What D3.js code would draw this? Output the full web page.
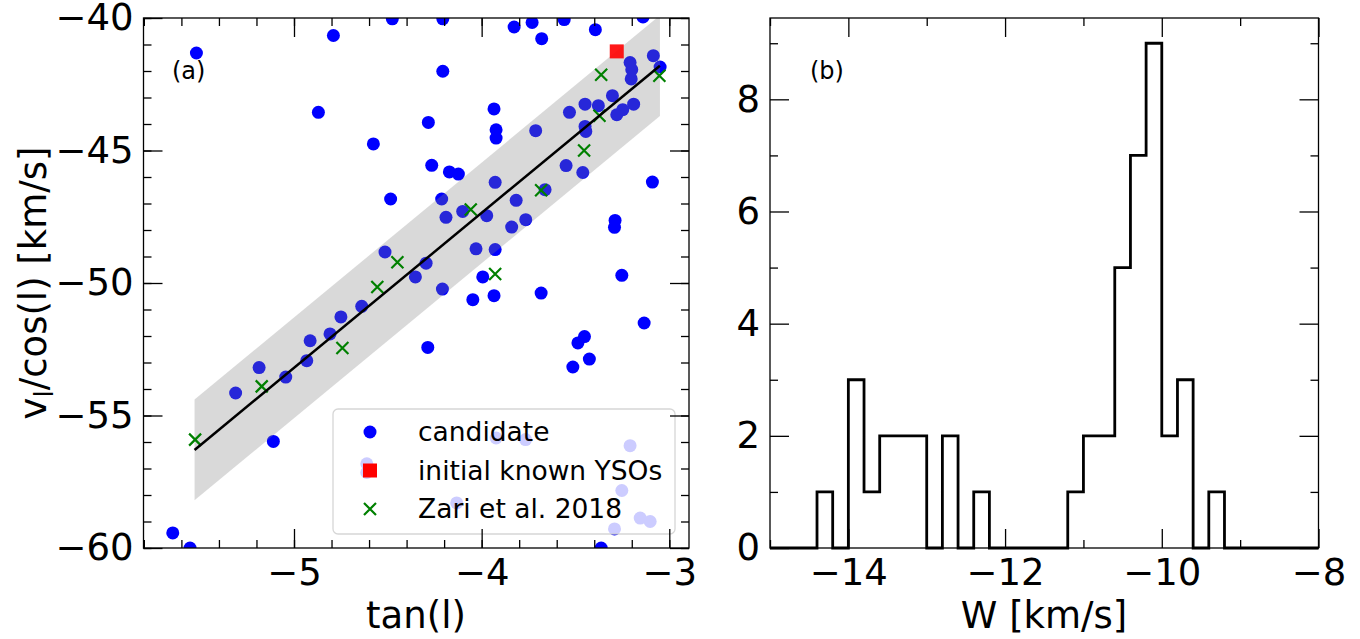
<!DOCTYPE html>
<html>
<head>
<meta charset="utf-8">
<script src="https://cdnjs.cloudflare.com/ajax/libs/d3/7.8.5/d3.min.js"></script>
<style>
  body { margin: 0; background: #fff; }
  svg { font-family: "DejaVu Sans", sans-serif; }
</style>
</head>
<body>
<svg width="1360" height="639"></svg>
<script>
// panel (a): candidates
var candTan = [-5.52, -4.79, -4.476, -4.87, -4.577, -4.485, -4.207, -3.827, -3.731, -3.68,
  -3.56, -3.394, -3.14, -4.207, -3.085, -3.049, -3.209, -3.20, -3.203, -3.303,
  -3.449, -3.378, -3.532, -3.19, -3.248, -3.28, -3.934, -4.284, -3.923, -3.923,
  -3.712, -3.449, -3.445, -4.266, -4.172, -4.124, -3.928, -3.55, -3.461, -3.09,
  -3.662, -4.213, -3.816, -4.515, -4.353, -4.639, -4.75, -4.808, -4.914, -4.932,
  -5.186, -5.044, -4.101, -4.19, -3.973, -3.84, -3.765, -4.03, -3.928, -3.289,
  -3.292, -4.296, -3.994, -4.209, -4.047, -3.934, -3.683, -3.253, -4.287, -3.134,
  -3.452, -3.487, -3.426, -3.514, -5.311, -5.11, -5.646, -5.554, -3.923, -3.766,
  -3.209, -4.612, -4.612, -3.253, -4.133, -3.155, -3.102, -3.292, -3.363];
var candV = [-41.32, -40.66, -40.03, -43.56, -44.75, -46.83, -40.03, -40.34, -40.17, -40.78,
  -40.06, -40.44, -39.96, -42.01, -41.42, -41.85, -41.68, -41.95, -42.30, -42.93,
  -43.25, -43.31, -43.56, -43.25, -43.46, -43.65, -43.43, -43.94, -44.22, -44.53,
  -44.25, -44.09, -44.28, -45.56, -45.81, -45.89, -46.2, -45.57, -45.83, -46.19,
  -46.48, -46.83, -46.88, -48.83, -49.77, -50.88, -51.28, -51.92, -52.18, -52.93,
  -53.19, -53.55, -47.3, -47.52, -47.46, -47.89, -47.61, -48.71, -48.74, -47.64,
  -47.9, -49.25, -49.77, -50.23, -50.63, -50.48, -50.38, -49.71, -52.43, -51.51,
  -52.02, -52.26, -52.87, -53.17, -54.15, -55.98, -59.43, -60.0, -55.85, -55.91,
  -56.14, -56.82, -57.15, -57.83, -58.3, -58.87, -59.0, -59.28, -60.0];

// initial known YSOs
var ysoTan = [-3.28];
var ysoV = [-41.26];

// Zari et al. 2018
var zariTan = [-5.527, -5.172, -4.742, -4.556, -4.449, -4.058, -3.928, -3.683, -3.454, -3.372, -3.363, -3.053];
var zariV = [-55.91, -53.9, -52.45, -50.15, -49.22, -47.23, -49.66, -46.5, -45.0, -43.69, -42.14, -42.18];

// linear fit and band
var fitTan = [-5.53, -3.05];
var fitV = [-56.3, -41.8];
var bandUpper = [-54.4, -39.9];
var bandLower = [-58.2, -43.7];

var legendLabels = ["candidate", "initial known YSOs", "Zari et al. 2018"];

// panel (b): histogram of W
var histEdges = [-15.0, -14.8, -14.6, -14.4, -14.2, -14.0, -13.8, -13.6, -13.4, -13.2,
  -13.0, -12.8, -12.6, -12.4, -12.2, -12.0, -11.8, -11.6, -11.4, -11.2,
  -11.0, -10.8, -10.6, -10.4, -10.2, -10.0, -9.8, -9.6, -9.4, -9.2,
  -9.0, -8.8, -8.6, -8.4, -8.2, -8.0];
var histCounts = [0, 0, 0, 1, 0, 3, 1, 2, 2, 2,
  0, 2, 0, 1, 0, 0, 0, 0, 0, 1,
  2, 2, 5, 7, 9, 2, 3, 0, 1, 0,
  0, 0, 0, 0, 0];

var tickA_x = [-5, -4, -3];
var tickA_y = [-60, -55, -50, -45, -40];
var tickB_x = [-14, -12, -10, -8];
var tickB_y = [0, 2, 4, 6, 8];

var svg = d3.select("svg");
var fs = 37;

var yTop = 18, yBot = 548;
var x1 = d3.scaleLinear().domain([-5.802, -2.895]).range([143.5, 689]);
var y1 = d3.scaleLinear().domain([-60, -40]).range([yBot, yTop]);
var x2 = d3.scaleLinear().domain([-15, -8]).range([770, 1318.5]);
var y2 = d3.scaleLinear().domain([0, 9.45]).range([yBot, yTop]);

function frameAxes(x, y, xt, yt, xminor, yminor, fmtX) {
  var g = svg.append("g");
  var x0 = x.range()[0], xr = x.range()[1];
  function add(axis, tr) {
    var a = g.append("g").attr("transform", tr).call(axis);
    a.select(".domain").remove();
    a.selectAll("line").attr("stroke", "#000").attr("stroke-width", 1.3);
    a.selectAll("text").attr("font-size", fs).attr("fill", "#000").attr("font-family", "DejaVu Sans");
    return a;
  }
  add(d3.axisBottom(x).tickValues(xt).tickSize(-19).tickSizeOuter(0).tickPadding(11).tickFormat(fmtX), "translate(0," + yBot + ")");
  add(d3.axisBottom(x).tickValues(xminor).tickSize(-8).tickSizeOuter(0).tickFormat(""), "translate(0," + yBot + ")");
  add(d3.axisTop(x).tickValues(xt).tickSize(-19).tickSizeOuter(0).tickFormat(""), "translate(0," + yTop + ")");
  add(d3.axisTop(x).tickValues(xminor).tickSize(-8).tickSizeOuter(0).tickFormat(""), "translate(0," + yTop + ")");
  add(d3.axisLeft(y).tickValues(yt).tickSize(-19).tickSizeOuter(0).tickPadding(10).tickFormat(d3.format("d")), "translate(" + x0 + ",0)");
  add(d3.axisLeft(y).tickValues(yminor).tickSize(-8).tickSizeOuter(0).tickFormat(""), "translate(" + x0 + ",0)");
  add(d3.axisRight(y).tickValues(yt).tickSize(-19).tickSizeOuter(0).tickFormat(""), "translate(" + xr + ",0)");
  add(d3.axisRight(y).tickValues(yminor).tickSize(-8).tickSizeOuter(0).tickFormat(""), "translate(" + xr + ",0)");
  g.append("rect")
    .attr("x", x0).attr("y", yTop)
    .attr("width", xr - x0).attr("height", yBot - yTop)
    .attr("fill", "none").attr("stroke", "#000").attr("stroke-width", 1.3);
}

// ---------- panel (a) ----------
svg.append("clipPath").attr("id", "clipA").append("rect")
  .attr("x", 143.5).attr("y", yTop).attr("width", 689 - 143.5).attr("height", yBot - yTop);

var pa = svg.append("g").attr("clip-path", "url(#clipA)");

pa.selectAll(".cand")
  .data(d3.zip(candTan, candV))
  .enter().append("circle")
  .attr("class", "cand")
  .attr("cx", function(d) { return x1(d[0]); })
  .attr("cy", function(d) { return y1(d[1]); })
  .attr("r", 6.5)
  .attr("fill", "#0000ff");

var band = fitTan.map(function(t, i) { return [x1(t), y1(bandUpper[i])]; })
  .concat(fitTan.map(function(t, i) { return [x1(t), y1(bandLower[i])]; }).reverse());
pa.append("path")
  .attr("d", "M" + band.join("L") + "Z")
  .attr("fill", "#808080")
  .attr("fill-opacity", 0.3);

pa.selectAll(".yso")
  .data(d3.zip(ysoTan, ysoV))
  .enter().append("rect")
  .attr("class", "yso")
  .attr("x", function(d) { return x1(d[0]) - 7; })
  .attr("y", function(d) { return y1(d[1]) - 7; })
  .attr("width", 14).attr("height", 14)
  .attr("fill", "#ff0000").attr("fill-opacity", 0.9);

pa.selectAll(".zari")
  .data(d3.zip(zariTan, zariV))
  .enter().append("path")
  .attr("class", "zari")
  .attr("d", "M-6,-6L6,6M-6,6L6,-6")
  .attr("transform", function(d) { return "translate(" + x1(d[0]) + "," + y1(d[1]) + ")"; })
  .attr("stroke", "#008000").attr("stroke-width", 2.2).attr("fill", "none");

pa.append("path")
  .attr("d", d3.line()(d3.zip(fitTan.map(x1), fitV.map(y1))))
  .attr("stroke", "#000").attr("stroke-width", 2.5).attr("fill", "none");

// legend
var lg = svg.append("g").attr("transform", "translate(333,409)");
lg.append("rect")
  .attr("width", 342).attr("height", 125).attr("rx", 5)
  .attr("fill", "#fff").attr("fill-opacity", 0.8)
  .attr("stroke", "#cccccc").attr("stroke-opacity", 0.8).attr("stroke-width", 1.3);
legendLabels.forEach(function(lab, i) {
  var cy = 23 + i * 38.5;
  if (i === 0) lg.append("circle").attr("cx", 37).attr("cy", cy).attr("r", 6.5).attr("fill", "#0000ff");
  if (i === 1) lg.append("rect").attr("x", 30).attr("y", cy - 7).attr("width", 14).attr("height", 14).attr("fill", "#ff0000");
  if (i === 2) lg.append("path").attr("d", "M31," + (cy - 6) + "L43," + (cy + 6) + "M31," + (cy + 6) + "L43," + (cy - 6))
    .attr("stroke", "#008000").attr("stroke-width", 2.2);
  lg.append("text").attr("x", 85).attr("y", cy + 9).attr("font-size", 26.5).text(lab);
});

frameAxes(x1, y1, tickA_x, tickA_y, d3.range(-5.8, -2.85, 0.2), d3.range(-60, -39, 1), d3.format("d"));

svg.append("text").attr("x", 172).attr("y", 79).attr("font-size", 24).text("(a)");

svg.append("text").attr("x", 416).attr("y", 628).attr("text-anchor", "middle")
  .attr("font-size", fs).text("tan(l)");

var yl = svg.append("text")
  .attr("transform", "translate(46,283) rotate(-90)")
  .attr("text-anchor", "middle").attr("font-size", fs);
yl.append("tspan").text("v");
yl.append("tspan").attr("font-size", fs * 0.7).attr("dy", 7).text("l");
yl.append("tspan").attr("dy", -7).text("/cos(l) [km/s]");

// ---------- panel (b) ----------
var step = [[x2(histEdges[0]), y2(0)]];
histCounts.forEach(function(c, i) {
  step.push([x2(histEdges[i]), y2(c)]);
  step.push([x2(histEdges[i + 1]), y2(c)]);
});
step.push([x2(histEdges[histEdges.length - 1]), y2(0)]);
svg.append("path")
  .attr("d", d3.line()(step))
  .attr("fill", "none").attr("stroke", "#000").attr("stroke-width", 2.8)
  .attr("stroke-linejoin", "miter");

frameAxes(x2, y2, tickB_x, tickB_y, [-15, -13, -11, -9], [1, 3, 5, 7, 9], d3.format("d"));

svg.append("text").attr("x", 810).attr("y", 79).attr("font-size", 24).text("(b)");
svg.append("text").attr("x", 1044).attr("y", 628).attr("text-anchor", "middle")
  .attr("font-size", fs).text("W [km/s]");
</script>
</body>
</html>
